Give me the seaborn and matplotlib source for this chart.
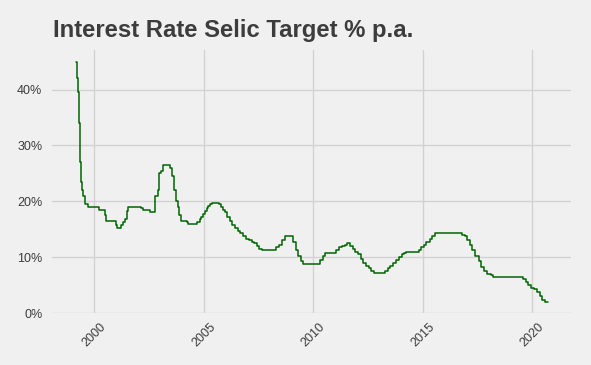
import matplotlib
matplotlib.use("Agg")
import matplotlib.pyplot as plt
import matplotlib.ticker as mticker
import seaborn as sns
import pandas as pd
import numpy as np

# Selic target decisions (date of change, rate % p.a.)
dates = [
    "1999-03-05", "1999-03-24", "1999-04-05", "1999-04-14", "1999-04-29", "1999-05-10",
    "1999-05-13", "1999-05-19", "1999-06-09", "1999-06-23", "1999-07-28", "1999-09-22",
    "2000-03-22", "2000-06-20", "2000-07-19", "2000-12-20",
    "2001-01-17", "2001-03-21", "2001-04-18", "2001-05-23", "2001-06-20", "2001-07-18",
    "2002-02-20", "2002-03-20", "2002-07-17", "2002-10-14", "2002-11-20", "2002-12-18",
    "2003-01-22", "2003-02-19", "2003-06-18", "2003-07-23", "2003-08-20", "2003-09-17",
    "2003-10-22", "2003-11-19", "2003-12-17",
    "2004-03-17", "2004-04-14", "2004-09-15", "2004-10-20", "2004-11-17", "2004-12-15",
    "2005-01-19", "2005-02-16", "2005-03-16", "2005-04-20", "2005-05-18", "2005-09-14",
    "2005-10-19", "2005-11-23", "2005-12-14",
    "2006-01-18", "2006-03-08", "2006-04-19", "2006-05-31", "2006-07-19", "2006-08-30",
    "2006-10-18", "2006-11-29",
    "2007-01-24", "2007-03-07", "2007-04-18", "2007-06-06", "2007-07-18", "2007-09-05",
    "2008-04-16", "2008-06-04", "2008-07-23", "2008-09-10",
    "2009-01-21", "2009-03-11", "2009-04-29", "2009-06-10", "2009-07-22",
    "2010-04-28", "2010-06-09", "2010-07-21",
    "2011-01-19", "2011-03-02", "2011-04-20", "2011-06-08", "2011-07-20", "2011-08-31",
    "2011-10-19", "2011-11-30",
    "2012-01-18", "2012-03-07", "2012-04-18", "2012-05-30", "2012-07-11", "2012-08-29",
    "2012-10-10",
    "2013-04-17", "2013-05-29", "2013-07-10", "2013-08-28", "2013-10-09", "2013-11-27",
    "2014-01-15", "2014-02-26", "2014-04-02", "2014-10-29", "2014-12-03",
    "2015-01-21", "2015-03-04", "2015-04-29", "2015-06-03", "2015-07-29",
    "2016-10-19", "2016-11-30",
    "2017-01-11", "2017-02-22", "2017-04-12", "2017-05-31", "2017-07-26", "2017-09-06",
    "2017-10-25", "2017-12-06",
    "2018-02-07", "2018-03-21",
    "2019-07-31", "2019-09-18", "2019-10-30", "2019-12-11",
    "2020-02-05", "2020-03-18", "2020-05-06", "2020-06-17", "2020-08-05", "2020-09-20",
]
rates = [
    45.00, 42.00, 39.50, 34.00, 32.00, 29.50,
    27.00, 23.50, 22.00, 21.00, 19.50, 19.00,
    18.50, 17.50, 16.50, 15.75,
    15.25, 15.75, 16.25, 16.75, 18.25, 19.00,
    18.75, 18.50, 18.00, 21.00, 22.00, 25.00,
    25.50, 26.50, 26.00, 24.50, 22.00, 20.00,
    19.00, 17.50, 16.50,
    16.25, 16.00, 16.25, 16.75, 17.25, 17.75,
    18.25, 18.75, 19.25, 19.50, 19.75, 19.50,
    19.00, 18.50, 18.00,
    17.25, 16.50, 15.75, 15.25, 14.75, 14.25,
    13.75, 13.25,
    13.00, 12.75, 12.50, 12.00, 11.50, 11.25,
    11.75, 12.25, 13.00, 13.75,
    12.75, 11.25, 10.25, 9.25, 8.75,
    9.50, 10.25, 10.75,
    11.25, 11.75, 12.00, 12.25, 12.50, 12.00,
    11.50, 11.00,
    10.50, 9.75, 9.00, 8.50, 8.00, 7.50,
    7.25,
    7.50, 8.00, 8.50, 9.00, 9.50, 10.00,
    10.50, 10.75, 11.00, 11.25, 11.75,
    12.25, 12.75, 13.25, 13.75, 14.25,
    14.00, 13.75,
    13.00, 12.25, 11.25, 10.25, 9.25, 8.25,
    7.50, 7.00,
    6.75, 6.50,
    6.00, 5.50, 5.00, 4.50,
    4.25, 3.75, 3.00, 2.25, 2.00, 2.00,
]

title = "Interest Rate Selic Target % p.a."
year_ticks = [2000, 2005, 2010, 2015, 2020]

d = pd.to_datetime(dates)
dec_year = d.year + (d.dayofyear - 1) / 365.25
df = pd.DataFrame({"year": dec_year, "rate": np.array(rates) / 100.0})

sns.set_theme(style="whitegrid")
plt.rcParams["font.family"] = ["Liberation Sans", "DejaVu Sans"]

bg = "#F0F0F0"
fig = plt.figure(figsize=(5.91, 3.65), dpi=100, facecolor=bg)
ax = fig.add_axes([52 / 591, 1 - 313 / 365, (571 - 52) / 591, (313 - 50) / 365])
ax.set_facecolor(bg)

sns.lineplot(data=df, x="year", y="rate", ax=ax, color="#006400", linewidth=1.1,
             drawstyle="steps-post")

ax.set_xlim(1998.06, 2021.78)
ax.set_ylim(0, 0.471)
ax.set_xticks(year_ticks)
ax.set_xticklabels([str(y) for y in year_ticks], rotation=45, ha="center", va="top")
ax.set_yticks([0, 0.1, 0.2, 0.3, 0.4])
ax.yaxis.set_major_formatter(mticker.FuncFormatter(lambda v, p: f"{v*100:.0f}%"))
ax.tick_params(axis="both", length=0, labelsize=9, colors="#3C3C3C")
ax.tick_params(axis="y", pad=7)
ax.tick_params(axis="x", pad=6)
ax.grid(True, color="#D2D2D2", linewidth=1)
for s in ax.spines.values():
    s.set_visible(False)
ax.set_xlabel("")
ax.set_ylabel("")

fig.text(53 / 591, 1 - 31 / 365, title, fontsize=17.2, fontweight="bold",
         color="#3C3C3C", ha="left", va="center")

fig.savefig("out.png", dpi=100, facecolor=bg)
